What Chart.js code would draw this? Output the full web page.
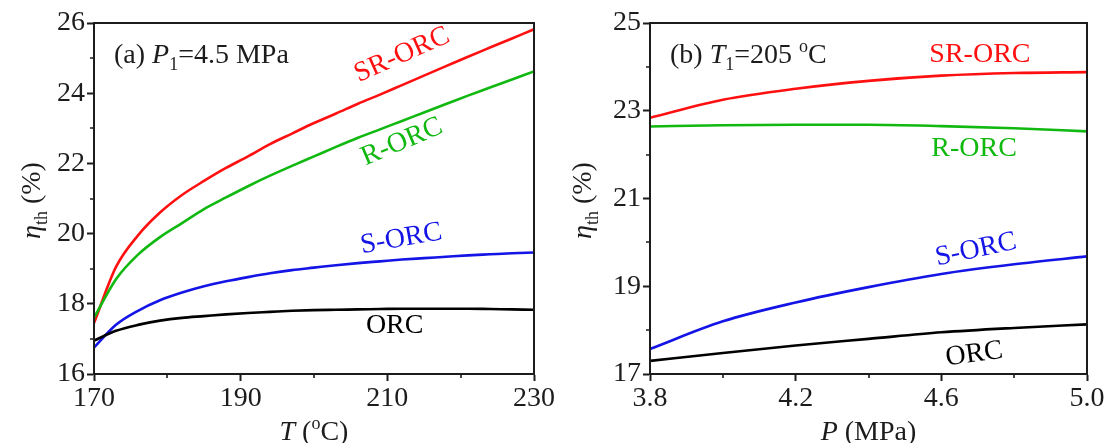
<!DOCTYPE html>
<html>
<head>
<meta charset="utf-8">
<script src="https://cdn.jsdelivr.net/npm/chart.js@4.4.1/dist/chart.umd.min.js"></script>
<style>
  html, body { margin: 0; padding: 0; background: #fff; }
  #wrap { position: relative; width: 1112px; height: 443px; overflow: hidden; }
  .panel { position: absolute; top: 0; height: 443px; }
</style>
</head>
<body>
<div id="wrap">
  <div class="panel" style="left:0;width:560px"><canvas id="chartT" width="560" height="443"></canvas></div>
  <div class="panel" style="left:560px;width:552px"><canvas id="chartP" width="552" height="443"></canvas></div>
</div>
<script>
const FONT = '"Liberation Serif", "Times New Roman", serif';
const SIZE = 28;
const INK = '#1c1c1c';
const RED = '#ff1010';
const GREEN = '#10b810';
const BLUE = '#1414e6';
const BLACK = '#000000';

// (a) thermal efficiency vs turbine inlet temperature, P1 = 4.5 MPa
const tempC      = [170, 173, 176, 179, 182, 185, 188, 191, 194, 197, 200, 203, 206, 209, 212, 215, 218, 221, 224, 227, 230];
const etaOrcT    = [16.95, 17.23, 17.40, 17.52, 17.60, 17.65, 17.70, 17.74, 17.77, 17.80, 17.82, 17.83, 17.84, 17.85, 17.86, 17.86, 17.86, 17.86, 17.85, 17.84, 17.83];
const etaSOrcT   = [16.75, 17.40, 17.80, 18.10, 18.32, 18.50, 18.64, 18.76, 18.87, 18.96, 19.03, 19.10, 19.16, 19.21, 19.26, 19.30, 19.34, 19.38, 19.41, 19.44, 19.46];
const etaROrcT   = [17.60, 18.70, 19.40, 19.90, 20.30, 20.70, 21.03, 21.35, 21.65, 21.93, 22.20, 22.47, 22.73, 22.97, 23.21, 23.45, 23.69, 23.93, 24.16, 24.39, 24.62];
const etaSROrcT  = [17.45, 19.05, 19.95, 20.60, 21.10, 21.50, 21.87, 22.20, 22.55, 22.85, 23.15, 23.42, 23.70, 23.96, 24.23, 24.50, 24.77, 25.04, 25.30, 25.56, 25.82];

// (b) thermal efficiency vs turbine inlet pressure, T1 = 205 °C
const pressMPa   = [3.8, 4.0, 4.2, 4.4, 4.6, 4.8, 5.0];
const etaOrcP    = [17.30, 17.48, 17.65, 17.80, 17.95, 18.05, 18.13];
const etaSOrcP   = [17.57, 18.20, 18.63, 18.98, 19.28, 19.50, 19.68];
const etaROrcP   = [22.64, 22.67, 22.68, 22.68, 22.65, 22.60, 22.53];
const etaSROrcP  = [22.84, 23.25, 23.50, 23.68, 23.80, 23.86, 23.88];

// tick values
const tempTicks  = [170, 190, 210, 230];
const tempMinor  = [180, 200, 220];
const etaTicksA  = [16, 18, 20, 22, 24, 26];
const etaMinorA  = [17, 19, 21, 23, 25];
const pressTicks = [3.8, 4.2, 4.6, 5.0];
const pressMinor = [4.0, 4.4, 4.8];
const etaTicksB  = [17, 19, 21, 23, 25];
const etaMinorB  = [18, 20, 22, 24];

// curve labels, placed in data units
const curveLabelsA = [
  { text: 'SR-ORC', x: 212.0, y: 25.09, angle: -24, color: RED },
  { text: 'R-ORC',  x: 212.0, y: 22.61, angle: -23, color: GREEN },
  { text: 'S-ORC',  x: 211.9, y: 19.85, angle: -10, color: BLUE },
  { text: 'ORC',    x: 211.0, y: 17.37, angle: 0,   color: BLACK }
];
const curveLabelsB = [
  { text: 'SR-ORC', x: 4.706, y: 24.27, angle: 0,   color: RED },
  { text: 'R-ORC',  x: 4.690, y: 22.13, angle: 0,   color: GREEN },
  { text: 'S-ORC',  x: 4.695, y: 19.83, angle: -12, color: BLUE },
  { text: 'ORC',    x: 4.690, y: 17.45, angle: -8,  color: BLACK }
];

function font(px, italic) {
  return (italic ? 'italic ' : '') + px + 'px ' + FONT;
}

// draw a run of text pieces with italic / sub / superscript parts
function drawRich(ctx, parts, x, y, align) {
  const pieces = parts.map(p => {
    const px = (p.sub || p.sup) ? Math.round(SIZE * 0.64) : SIZE;
    ctx.font = font(px, p.italic);
    return { ...p, px, w: ctx.measureText(p.text).width };
  });
  const total = pieces.reduce((a, p) => a + p.w, 0);
  let cx = align === 'center' ? x - total / 2 : x;
  ctx.textAlign = 'left';
  ctx.textBaseline = 'alphabetic';
  pieces.forEach(p => {
    ctx.font = font(p.px, p.italic);
    const dy = p.sub ? 7 : (p.sup ? -11 : 0);
    ctx.fillText(p.text, cx, y + dy);
    cx += p.w;
  });
}

const decor = {
  id: 'decor',
  afterDraw(chart, args, o) {
    const { ctx, chartArea: a } = chart;
    const xs = chart.scales.x, ys = chart.scales.y;
    ctx.save();

    // frame
    ctx.strokeStyle = INK;
    ctx.lineWidth = 2;
    ctx.strokeRect(a.left, a.top, a.right - a.left, a.bottom - a.top);

    // minor ticks
    ctx.lineWidth = 1.6;
    ctx.beginPath();
    o.xMinor.forEach(v => {
      const px = Math.round(xs.getPixelForValue(v));
      ctx.moveTo(px, a.bottom); ctx.lineTo(px, a.bottom + 4);
    });
    o.yMinor.forEach(v => {
      const py = Math.round(ys.getPixelForValue(v));
      ctx.moveTo(a.left, py); ctx.lineTo(a.left - 4, py);
    });
    ctx.stroke();

    ctx.fillStyle = INK;
    // x title
    drawRich(ctx, o.xTitle, (a.left + a.right) / 2, 440, 'center');

    // y title, rotated
    ctx.save();
    ctx.translate(o.yTitleX, (a.top + a.bottom) / 2 + 2);
    ctx.rotate(-Math.PI / 2);
    drawRich(ctx, [
      { text: 'η', italic: true },
      { text: 'th', sub: true },
      { text: ' (%)' }
    ], 0, 10, 'center');
    ctx.restore();

    // panel caption
    drawRich(ctx, o.caption, a.left + 20, a.top + 40, 'left');

    // curve labels
    o.labels.forEach(l => {
      ctx.save();
      ctx.translate(xs.getPixelForValue(l.x), ys.getPixelForValue(l.y));
      ctx.rotate(l.angle * Math.PI / 180);
      ctx.fillStyle = l.color;
      ctx.font = font(SIZE, false);
      ctx.textAlign = 'center';
      ctx.textBaseline = 'middle';
      ctx.fillText(l.text, 0, 0);
      ctx.restore();
    });
    ctx.restore();
  }
};

function series(xv, yv, color) {
  return {
    data: xv.map((x, i) => ({ x, y: yv[i] })),
    borderColor: color,
    borderWidth: 2.6,
    pointRadius: 0,
    cubicInterpolationMode: 'monotone',
    fill: false
  };
}

function axis(range, ticks, fmt, isY, size) {
  return {
    type: 'linear',
    min: range[0],
    max: range[1],
    afterBuildTicks: s => { s.ticks = ticks.map(v => ({ value: v })); },
    afterFit: s => { if (isY) s.width = size; else s.height = size; },
    grid: { display: true, drawOnChartArea: false, drawTicks: true, tickLength: 7, tickWidth: 2, tickColor: INK },
    border: { display: true, color: INK, width: 2 },
    ticks: {
      autoSkip: false,
      maxRotation: 0,
      padding: isY ? 2 : 1,
      color: INK,
      font: { family: FONT, size: SIZE },
      callback: v => fmt(v)
    }
  };
}

function makeChart(id, cfg) {
  return new Chart(document.getElementById(id), {
    type: 'line',
    data: { datasets: cfg.datasets },
    options: {
      responsive: false,
      animation: false,
      events: [],
      layout: { padding: { top: 23, right: cfg.rightPad, left: 0, bottom: 0 } },
      plugins: {
        legend: { display: false },
        tooltip: { enabled: false },
        decor: cfg.decor
      },
      scales: {
        x: axis(cfg.xRange, cfg.xTicks, cfg.xFmt, false, 69),
        y: axis(cfg.yRange, cfg.yTicks, v => String(v), true, cfg.yWidth)
      }
    },
    plugins: [decor]
  });
}

makeChart('chartT', {
  datasets: [
    series(tempC, etaOrcT, BLACK),
    series(tempC, etaSOrcT, BLUE),
    series(tempC, etaROrcT, GREEN),
    series(tempC, etaSROrcT, RED)
  ],
  xRange: [170, 230], xTicks: tempTicks, xFmt: v => String(v),
  yRange: [16, 26], yTicks: etaTicksA,
  yWidth: 94, rightPad: 26,
  decor: {
    xMinor: tempMinor, yMinor: etaMinorA, yTitleX: 30,
    xTitle: [{ text: 'T', italic: true }, { text: ' (' }, { text: 'o', sup: true }, { text: 'C)' }],
    caption: [{ text: '(a) ' }, { text: 'P', italic: true }, { text: '1', sub: true }, { text: '=4.5 MPa' }],
    labels: curveLabelsA
  }
});

makeChart('chartP', {
  datasets: [
    series(pressMPa, etaOrcP, BLACK),
    series(pressMPa, etaSOrcP, BLUE),
    series(pressMPa, etaROrcP, GREEN),
    series(pressMPa, etaSROrcP, RED)
  ],
  xRange: [3.8, 5.0], xTicks: pressTicks, xFmt: v => v.toFixed(1),
  yRange: [17, 25], yTicks: etaTicksB,
  yWidth: 90, rightPad: 25,
  decor: {
    xMinor: pressMinor, yMinor: etaMinorB, yTitleX: 21,
    xTitle: [{ text: 'P', italic: true }, { text: ' (MPa)' }],
    caption: [{ text: '(b) ' }, { text: 'T', italic: true }, { text: '1', sub: true }, { text: '=205 ' }, { text: 'o', sup: true }, { text: 'C' }],
    labels: curveLabelsB
  }
});
</script>
</body>
</html>
